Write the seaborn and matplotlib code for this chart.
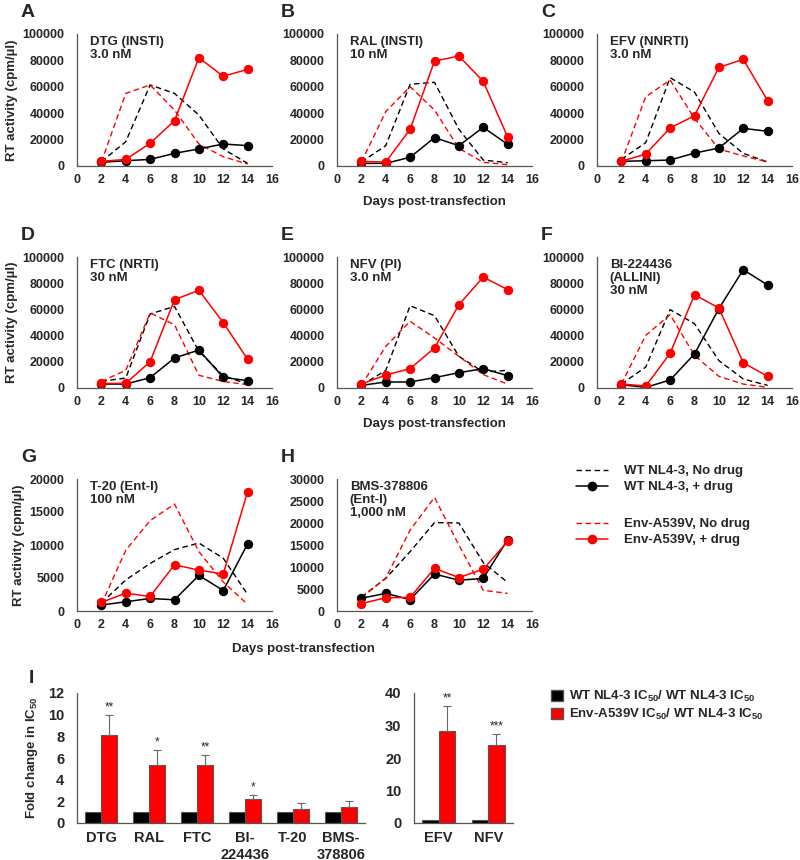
import matplotlib
matplotlib.use("Agg")
import matplotlib.pyplot as plt
import seaborn as sns
import pandas as pd
from matplotlib.lines import Line2D
from matplotlib.patches import Patch

sns.set_style("white")
plt.rcParams['font.family'] = ['Liberation Sans', 'DejaVu Sans']
plt.rcParams['font.weight'] = 'bold'
plt.rcParams['mathtext.default'] = 'regular'

days = [2, 4, 6, 8, 10, 12, 14]

# A  DTG
dtg_wt_nd = [3300, 18400, 61400, 55000, 38600, 12900, 2000]
dtg_env_nd = [3000, 55000, 61400, 42400, 16700, 7000, 1500]
dtg_wt_d = [2800, 4000, 5000, 9600, 12900, 16700, 15400]
dtg_env_d = [3500, 5000, 17200, 34300, 82000, 68000, 73200]
# B  RAL
ral_wt_nd = [3000, 15400, 61900, 63400, 27800, 4500, 2500]
ral_env_nd = [3000, 41200, 60100, 42400, 13400, 2800, 1000]
ral_wt_d = [2000, 2000, 6600, 21500, 15400, 29300, 16400]
ral_env_d = [3500, 3000, 27800, 79500, 83300, 64100, 22000]
# C  EFV
efv_wt_nd = [5000, 17700, 66900, 56000, 24700, 9600, 3000]
efv_env_nd = [3000, 52500, 65100, 36100, 12900, 7600, 3000]
efv_wt_d = [3500, 4000, 4500, 9800, 13600, 28500, 26300]
efv_env_d = [3500, 9100, 28800, 38100, 74700, 80800, 49500]
# D  FTC
ftc_wt_nd = [5100, 7600, 56500, 62300, 28000, 9400, 3000]
ftc_env_nd = [5000, 13500, 57300, 48300, 9700, 5000, 2500]
ftc_wt_d = [3000, 3000, 7900, 22900, 29000, 8100, 5600]
ftc_env_d = [3500, 3500, 20100, 67400, 74600, 49900, 21900]
# E  NFV
nfv_wt_nd = [2000, 13500, 62800, 55200, 24200, 12200, 13500]
nfv_env_nd = [2000, 31800, 50900, 38200, 24200, 10200, 3000]
nfv_wt_d = [2000, 4600, 4600, 7900, 11700, 14800, 9400]
nfv_env_d = [3000, 9900, 14800, 30500, 63600, 84700, 75100]
# F  BI-224436
bi_wt_nd = [3000, 16000, 59800, 49100, 20900, 6900, 2000]
bi_env_nd = [3000, 40200, 56000, 24900, 8900, 3000, 500]
bi_wt_d = [2500, 500, 6100, 26000, 60600, 90300, 78600]
bi_env_d = [3100, 1500, 26500, 71200, 61100, 19300, 8900]
# G  T-20
t20_wt_nd = [1200, 4700, 7200, 9300, 10300, 8000, 2500]
t20_env_nd = [1000, 9200, 13700, 16200, 9000, 4400, 1000]
t20_wt_d = [900, 1400, 1900, 1700, 5400, 3100, 10200]
t20_env_d = [1300, 2700, 2200, 7000, 6200, 5600, 18100]
# H  BMS-378806
bms_wt_nd = [3200, 7400, 13500, 20100, 20000, 11000, 6500]
bms_env_nd = [3000, 7500, 18400, 25800, 15000, 4700, 4000]
bms_wt_d = [2900, 4000, 2600, 8400, 7000, 7400, 16200]
bms_env_d = [1700, 3000, 3100, 9700, 7600, 9500, 15800]

# I  fold change in IC50
drugs_a = ["DTG", "RAL", "FTC", "BI-\n224436", "T-20", "BMS-\n378806"]
wt_fold_a = [1, 1, 1, 1, 1, 1]
env_fold_a = [8.1, 5.4, 5.4, 2.25, 1.3, 1.47]
env_err_a = [1.9, 1.3, 0.9, 0.3, 0.55, 0.58]
stars_a = ["**", "*", "**", "*", "", ""]
drugs_b = ["EFV", "NFV"]
wt_fold_b = [1, 1]
env_fold_b = [28.3, 24.0]
env_err_b = [7.8, 3.5]
stars_b = ["**", "***"]

W, H = 800, 860
fig = plt.figure(figsize=(W / 100, H / 100), dpi=100)


def add_ax(l, t, r, b):
    return fig.add_axes([l / W, 1 - b / H, (r - l) / W, (b - t) / H])


def style(ax):
    for s in ['top', 'right']:
        ax.spines[s].set_visible(False)
    for s in ['left', 'bottom']:
        ax.spines[s].set_color('#555555')
        ax.spines[s].set_linewidth(0.9)


dash = (0, (4, 2.5))
TXT = 9.5


def line_panel(ax, wt_nd, env_nd, wt_d, env_d, ymax, ystep, label, letter):
    sns.lineplot(x=days, y=wt_nd, ax=ax, color='black', lw=1.0, linestyle=dash)
    sns.lineplot(x=days, y=env_nd, ax=ax, color='red', lw=1.0, linestyle=dash)
    sns.lineplot(x=days, y=wt_d, ax=ax, color='black', lw=1.1, marker='o',
                 markersize=6, markeredgecolor='black')
    sns.lineplot(x=days, y=env_d, ax=ax, color='red', lw=1.1, marker='o',
                 markersize=6, markeredgecolor='red')
    ax.set_xlim(0, 16)
    ax.set_ylim(0, ymax)
    ax.set_xticks(range(0, 17, 2))
    ax.set_yticks(range(0, ymax + 1, ystep))
    ax.tick_params(axis='x', direction='in', length=3, pad=6, labelsize=9,
                   color='#555555')
    ax.tick_params(axis='y', direction='out', length=3, pad=6, labelsize=9,
                   color='#555555')
    for t in ax.get_xticklabels() + ax.get_yticklabels():
        t.set_fontweight('bold')
    style(ax)
    ax.text(0.065, 0.985, label, transform=ax.transAxes, va='top', ha='left',
            fontsize=TXT, fontweight='bold', linespacing=1.1)
    pos = ax.get_position()
    fig.text(pos.x0 - 56 / W, pos.y1 + 17 / H, letter, fontsize=14,
             fontweight='bold', va='baseline', ha='left')


ylab = "RT activity (cpm/\u00b5l)"

ax = add_ax(77, 34, 272, 166)
line_panel(ax, dtg_wt_nd, dtg_env_nd, dtg_wt_d, dtg_env_d, 100000, 20000,
           "DTG (INSTI)\n3.0 nM", "A")
ax.set_ylabel(ylab, fontsize=TXT, fontweight='bold', labelpad=3)
ax = add_ax(337, 34, 532, 166)
line_panel(ax, ral_wt_nd, ral_env_nd, ral_wt_d, ral_env_d, 100000, 20000,
           "RAL (INSTI)\n10 nM", "B")
ax.set_xlabel("Days post-transfection", fontsize=TXT, fontweight='bold', labelpad=7)
ax = add_ax(597, 34, 792, 166)
line_panel(ax, efv_wt_nd, efv_env_nd, efv_wt_d, efv_env_d, 100000, 20000,
           "EFV (NNRTI)\n3.0 nM", "C")

ax = add_ax(77, 257, 272, 388)
line_panel(ax, ftc_wt_nd, ftc_env_nd, ftc_wt_d, ftc_env_d, 100000, 20000,
           "FTC (NRTI)\n30 nM", "D")
ax.set_ylabel(ylab, fontsize=TXT, fontweight='bold', labelpad=3)
ax = add_ax(337, 257, 532, 388)
line_panel(ax, nfv_wt_nd, nfv_env_nd, nfv_wt_d, nfv_env_d, 100000, 20000,
           "NFV (PI)\n3.0 nM", "E")
ax.set_xlabel("Days post-transfection", fontsize=TXT, fontweight='bold', labelpad=7)
ax = add_ax(597, 257, 792, 388)
line_panel(ax, bi_wt_nd, bi_env_nd, bi_wt_d, bi_env_d, 100000, 20000,
           "BI-224436\n(ALLINI)\n30 nM", "F")

ax = add_ax(77, 479, 272, 611)
line_panel(ax, t20_wt_nd, t20_env_nd, t20_wt_d, t20_env_d, 20000, 5000,
           "T-20 (Ent-I)\n100 nM", "G")
ax.set_ylabel(ylab, fontsize=TXT, fontweight='bold', labelpad=3)
ax = add_ax(337, 479, 532, 611)
line_panel(ax, bms_wt_nd, bms_env_nd, bms_wt_d, bms_env_d, 30000, 5000,
           "BMS-378806\n(Ent-I)\n1,000 nM", "H")
fig.text(303 / W, 1 - 649 / H, "Days post-transfection", fontsize=TXT,
         fontweight='bold', ha='center', va='center')

# legend for line panels
h1 = [Line2D([], [], color='black', lw=1.0, linestyle=dash),
      Line2D([], [], color='black', lw=1.1, marker='o', markersize=6)]
h2 = [Line2D([], [], color='red', lw=1.0, linestyle=dash),
      Line2D([], [], color='red', lw=1.1, marker='o', markersize=6)]
leg_kw = dict(frameon=False, handlelength=2.4, handletextpad=1.2,
              labelspacing=0.3, prop={'size': TXT, 'weight': 'bold'},
              loc='upper left', borderaxespad=0, borderpad=0)
fig.legend(h1, ["WT NL4-3, No drug", "WT NL4-3, + drug"],
           bbox_to_anchor=(576 / W, 1 - 465 / H), **leg_kw)
fig.legend(h2, ["Env-A539V, No drug", "Env-A539V, + drug"],
           bbox_to_anchor=(576 / W, 1 - 518 / H), **leg_kw)


def bar_panel(ax, drugs, wt, env, err, stars, ymax, ystep, off):
    df = pd.DataFrame({
        'drug': drugs * 2,
        'strain': ['WT'] * len(drugs) + ['Env'] * len(drugs),
        'fold': wt + env,
    })
    sns.barplot(data=df, x='drug', y='fold', hue='strain', palette=['black', 'red'],
                saturation=1, width=0.66, edgecolor='#555555', linewidth=0.8,
                errorbar=None, legend=False, ax=ax)
    for bar, e, s in zip(ax.containers[1], err, stars):
        x = bar.get_x() + bar.get_width() / 2
        top = bar.get_height()
        ax.errorbar(x, top, yerr=[[0], [e]], color='#666666', lw=0.8,
                    capsize=3, capthick=0.8)
        if s:
            ax.text(x, top + e + off, s, ha='center', va='bottom', fontsize=8.5,
                    fontweight='normal')
    ax.set_xlim(-0.5, len(drugs) - 0.5)
    ax.set_ylim(0, ymax)
    ax.set_yticks(range(0, ymax + 1, ystep))
    ax.set_xlabel("")
    ax.set_ylabel("")
    ax.set_xticks([i + 0.5 for i in range(len(drugs))], minor=True)
    ax.tick_params(axis='x', which='major', length=0, pad=6, labelsize=10.5)
    ax.tick_params(axis='x', which='minor', length=3, direction='out',
                   color='#555555')
    ax.tick_params(axis='y', direction='out', length=3, pad=6, labelsize=10.5,
                   color='#555555')
    for t in ax.get_xticklabels() + ax.get_yticklabels():
        t.set_fontweight('bold')
    style(ax)


ax = add_ax(77, 693, 365, 823)
bar_panel(ax, drugs_a, wt_fold_a, env_fold_a, env_err_a, stars_a, 12, 2, 0.15)
ax.set_ylabel("Fold change in IC$_{50}$", fontsize=TXT, fontweight='bold', labelpad=6)
fig.text(29 / W, 1 - 670 / H, "I", fontsize=14, fontweight='bold', va='top')
ax = add_ax(414, 693, 513, 823)
bar_panel(ax, drugs_b, wt_fold_b, env_fold_b, env_err_b, stars_b, 40, 10, 0.5)

bh = [Patch(facecolor='black', edgecolor='#555555'),
      Patch(facecolor='red', edgecolor='#555555')]
fig.legend(bh, ["WT NL4-3 IC$_{50}$/ WT NL4-3 IC$_{50}$",
                "Env-A539V IC$_{50}$/ WT NL4-3 IC$_{50}$"],
           frameon=False, handlelength=0.9, handleheight=0.9, handletextpad=0.5,
           labelspacing=0.2, prop={'size': 9.5, 'weight': 'bold'},
           loc='upper left', bbox_to_anchor=(551 / W, 1 - 689 / H),
           borderaxespad=0, borderpad=0)

fig.savefig("out.png", dpi=100)
